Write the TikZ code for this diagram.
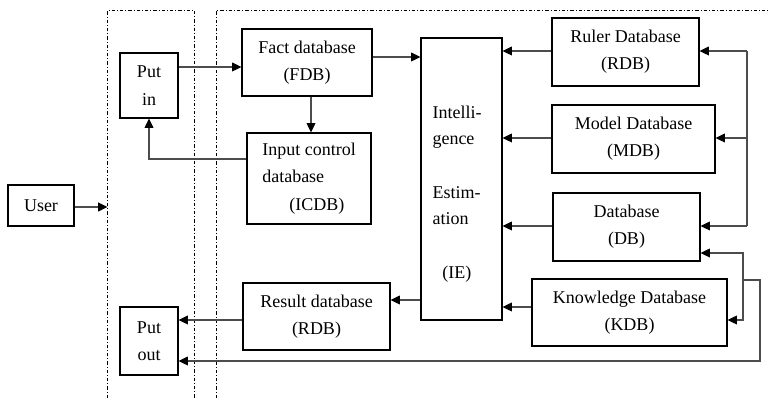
\documentclass[tikz,border=0pt]{standalone}
\usepackage{fontspec}
\setmainfont{Liberation Serif}
\usetikzlibrary{arrows.meta,calc}
\begin{document}
\begin{tikzpicture}[x=0.75pt,y=-0.75pt,
  txt/.style={font=\fontsize{13.5pt}{20.5pt}\selectfont},
  box/.style={txt,draw=black,line width=0.8pt,rectangle,inner sep=0pt,align=center},
  tip/.tip={Triangle[length=7pt,width=6.5pt,color=black]},
  conn/.style={draw=black!70,line width=1.1pt,-tip},
  conn2/.style={draw=black!70,line width=1.1pt,tip-tip},
  wire/.style={draw=black!70,line width=1.1pt},
  frame/.style={draw=black,line width=0.7pt,dash pattern=on 2.5pt off 1.5pt on 0.75pt off 1.5pt}
]
\useasboundingbox (0,0) rectangle (768,398);

% frames
\draw[frame] (107.5,398) -- (107.5,10.5) -- (194.5,10.5) -- (194.5,398);
\draw[frame] (216,398) -- (216,10.5) -- (768,10.5);

% nodes
\node[box,minimum width=49.5pt,minimum height=30.75pt] (User) at (41,205.5) {User};
\node[box,minimum width=43.5pt,minimum height=48.75pt] (Putin) at (149,85.5) {Put\\in};
\node[box,minimum width=43.5pt,minimum height=51pt] (Putout) at (149,341) {Put\\out};
\node[box,minimum width=97.5pt,minimum height=50.25pt] (FDB) at (307,62.5) {Fact database\\(FDB)};
\node[box,minimum width=93pt,minimum height=68.25pt,align=left] (ICDB) at (309,178.5) {Input control\\database\\\hspace{1.5em}(ICDB)};
\node[box,minimum width=60.75pt,minimum height=211.5pt] (IE) at (461.5,179) {};
\node[txt,align=left,inner sep=0pt,font=\fontsize{13.5pt}{20pt}\selectfont] (IEt) at (457,194) {Intelli-\\gence\\[20pt]Estim-\\ation\\[20pt]\hspace{0.55em}(IE)};
\node[box,minimum width=110.25pt,minimum height=51pt] (RDB) at (625.5,52) {Ruler Database\\(RDB)};
\node[box,minimum width=122.25pt,minimum height=51pt] (MDB) at (633.5,139) {Model Database\\(MDB)};
\node[box,minimum width=110.25pt,minimum height=51pt] (DB) at (626.5,227) {Database\\(DB)};
\node[box,minimum width=146.25pt,minimum height=50.25pt] (KDB) at (629.5,312.5) {Knowledge Database\\(KDB)};
\node[box,minimum width=110.25pt,minimum height=50.25pt] (ResDB) at (316.5,316.5) {Result database\\(RDB)};

% coordinates
\coordinate (uin) at (107.5,207);
\coordinate (b1) at (747,51);
\coordinate (b2) at (747,138);
\coordinate (b3) at (747,226);
\coordinate (j1) at (743,253);
\coordinate (j2) at (743,320);
\coordinate (j3) at (743,280);
\coordinate (k1) at (760,280);
\coordinate (k2) at (760,361);

% connectors
\draw[conn] (User.east |- uin) -- (uin);
\draw[conn] (Putin.east |- 0,67) -- (FDB.west |- 0,67);
\draw[conn] (FDB.east |- 0,57) -- (IE.west |- 0,57);
\draw[conn] (FDB.south -| 311,0) -- (ICDB.north -| 311,0);
\draw[conn] (ICDB.west |- 0,159) -| (Putin.south);
\draw[conn] (RDB.west |- b1) -- (IE.east |- b1);
\draw[conn] (MDB.west |- b2) -- (IE.east |- b2);
\draw[conn] (DB.west |- b3) -- (IE.east |- b3);
\draw[conn] (KDB.west |- 0,307) -- (IE.east |- 0,307);
\draw[conn] (IE.west |- 0,300) -- (ResDB.east |- 0,300);
\draw[conn] (ResDB.west |- 0,320) -- (Putout.east |- 0,320);
\draw[wire] (b1) -- (b3);
\draw[conn] (b1) -- (RDB.east |- b1);
\draw[conn] (b2) -- (MDB.east |- b2);
\draw[conn] (b3) -- (DB.east |- b3);
\draw[conn2] (DB.east |- j1) -- (j1) -- (j2) -- (KDB.east |- j2);
\draw[conn] (j3) -- (k1) -- (k2) -- (Putout.east |- k2);
\end{tikzpicture}
\end{document}
